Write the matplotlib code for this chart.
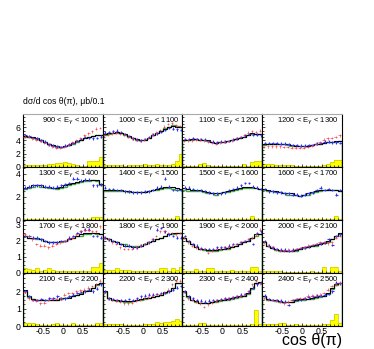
import matplotlib
matplotlib.use('Agg')
import matplotlib.pyplot as plt
from matplotlib.ticker import MultipleLocator, FixedLocator
import numpy as np

plt.rcParams['font.family'] = ['Liberation Sans', 'DejaVu Sans']
plt.rcParams['axes.unicode_minus'] = False

# bin edges in cos theta (20 bins of 0.1)
edges = np.linspace(-1, 1, 21)
centers = 0.5 * (edges[:-1] + edges[1:])

# energy ranges for the 16 panels
e_lo = [900, 1000, 1100, 1200, 1300, 1400, 1500, 1600,
        1700, 1800, 1900, 2000, 2100, 2200, 2300, 2400]
e_hi = [1000, 1100, 1200, 1300, 1400, 1500, 1600, 1700,
        1800, 1900, 2000, 2100, 2200, 2300, 2400, 2500]

# y range per row and tick labels
row_ymax = [8.0, 4.6, 3.3, 3.05]
row_ticks = [[0, 2, 4, 6], [0, 2, 4], [0, 1, 2, 3], [0, 1, 2]]
row_minor = [0.5, 0.5, 0.25, 0.25]

# model (black histogram)
model = [
    [4.7, 4.6, 4.5, 4.3, 4.0, 3.8, 3.5, 3.3, 3.1, 3.0, 3.1, 3.3, 3.6, 3.9, 4.1, 4.3, 4.5, 4.7, 4.9, 4.8],
    [5.0, 5.1, 5.2, 5.3, 5.2, 5.0, 4.7, 4.4, 4.2, 4.0, 4.1, 4.4, 4.8, 5.1, 5.4, 5.8, 6.1, 6.2, 6.1, 6.0],
    [4.1, 4.1, 4.2, 4.2, 4.1, 4.1, 4.0, 3.7, 3.6, 3.8, 3.8, 3.9, 4.0, 4.2, 4.4, 4.6, 4.9, 5.1, 5.0, 5.0],
    [3.4, 3.5, 3.5, 3.5, 3.5, 3.5, 3.4, 3.3, 3.2, 3.2, 3.2, 3.2, 3.3, 3.4, 3.5, 3.6, 3.7, 3.8, 3.9, 3.9],
    [2.8, 2.9, 3.0, 3.0, 3.0, 2.9, 2.9, 2.8, 2.8, 2.9, 3.0, 3.1, 3.2, 3.3, 3.4, 3.5, 3.5, 3.5, 3.5, 3.1],
    [2.6, 2.6, 2.6, 2.6, 2.6, 2.5, 2.5, 2.4, 2.4, 2.4, 2.4, 2.5, 2.6, 2.7, 2.8, 2.9, 2.9, 2.9, 2.8, 2.7],
    [2.8, 2.7, 2.6, 2.6, 2.6, 2.5, 2.4, 2.3, 2.3, 2.3, 2.4, 2.5, 2.6, 2.7, 2.8, 2.9, 2.9, 2.9, 2.8, 2.7],
    [2.7, 2.6, 2.5, 2.5, 2.4, 2.3, 2.3, 2.3, 2.2, 2.1, 2.2, 2.3, 2.4, 2.5, 2.6, 2.6, 2.6, 2.6, 2.6, 2.5],
    [2.3, 2.2, 2.2, 2.2, 2.1, 2.0, 1.9, 1.9, 1.9, 2.0, 2.0, 2.1, 2.2, 2.3, 2.4, 2.5, 2.5, 2.5, 2.5, 2.4],
    [2.2, 2.1, 2.0, 1.9, 1.8, 1.7, 1.7, 1.6, 1.6, 1.7, 1.8, 1.9, 2.0, 2.1, 2.2, 2.3, 2.4, 2.5, 2.5, 2.5],
    [2.2, 2.0, 1.8, 1.6, 1.5, 1.5, 1.45, 1.45, 1.45, 1.5, 1.5, 1.55, 1.6, 1.7, 1.8, 1.9, 2.0, 2.2, 2.4, 2.4],
    [1.9, 1.7, 1.55, 1.5, 1.45, 1.4, 1.4, 1.4, 1.45, 1.5, 1.6, 1.6, 1.65, 1.75, 1.8, 1.85, 2.0, 2.1, 2.3, 2.5],
    [2.05, 1.7, 1.55, 1.5, 1.5, 1.5, 1.5, 1.5, 1.5, 1.6, 1.6, 1.6, 1.75, 1.8, 1.85, 2.0, 2.0, 2.2, 2.4, 2.5],
    [2.0, 1.6, 1.5, 1.5, 1.45, 1.45, 1.45, 1.45, 1.5, 1.55, 1.6, 1.6, 1.65, 1.75, 1.8, 1.95, 2.0, 2.2, 2.5, 2.5],
    [2.0, 1.7, 1.5, 1.45, 1.35, 1.35, 1.35, 1.4, 1.45, 1.5, 1.5, 1.55, 1.6, 1.65, 1.7, 1.75, 1.9, 2.2, 2.5, 2.55],
    [1.7, 1.55, 1.5, 1.5, 1.45, 1.4, 1.4, 1.4, 1.5, 1.55, 1.55, 1.55, 1.6, 1.65, 1.7, 1.75, 1.9, 2.2, 2.4, 2.45],
]

# second model (green histogram)
green = [
    [4.6, 4.6, 4.4, 4.2, 4.0, 3.7, 3.5, 3.2, 3.0, 3.0, 3.1, 3.3, 3.5, 3.8, 4.1, 4.3, 4.5, 4.7, 4.8, 4.8],
    [4.9, 5.0, 5.1, 5.2, 5.1, 4.9, 4.6, 4.3, 4.1, 4.0, 4.1, 4.4, 4.8, 5.1, 5.5, 5.9, 6.1, 6.3, 6.2, 6.1],
    [4.1, 4.1, 4.1, 4.2, 4.1, 4.0, 3.9, 3.7, 3.6, 3.7, 3.8, 3.9, 4.0, 4.2, 4.4, 4.6, 4.9, 5.0, 5.0, 5.0],
    [3.3, 3.4, 3.5, 3.5, 3.5, 3.4, 3.3, 3.2, 3.2, 3.2, 3.2, 3.2, 3.3, 3.4, 3.5, 3.6, 3.7, 3.7, 3.8, 3.9],
    [2.7, 2.8, 2.9, 3.0, 2.9, 2.9, 2.8, 2.8, 2.7, 2.8, 2.9, 3.0, 3.1, 3.2, 3.3, 3.4, 3.4, 3.5, 3.4, 3.0],
    [2.5, 2.5, 2.5, 2.5, 2.5, 2.5, 2.4, 2.4, 2.4, 2.4, 2.4, 2.5, 2.6, 2.6, 2.7, 2.8, 2.8, 2.7, 2.6, 2.6],
    [2.6, 2.5, 2.5, 2.5, 2.5, 2.4, 2.3, 2.3, 2.2, 2.3, 2.4, 2.4, 2.5, 2.6, 2.7, 2.8, 2.8, 2.8, 2.8, 2.7],
    [2.6, 2.5, 2.5, 2.4, 2.4, 2.3, 2.2, 2.2, 2.2, 2.1, 2.2, 2.2, 2.3, 2.4, 2.5, 2.6, 2.6, 2.6, 2.6, 2.5],
    [2.3, 2.2, 2.2, 2.1, 2.1, 2.0, 1.9, 1.9, 1.9, 1.9, 2.0, 2.1, 2.2, 2.3, 2.3, 2.4, 2.4, 2.5, 2.4, 2.4],
    [2.2, 2.1, 2.0, 1.9, 1.8, 1.8, 1.7, 1.7, 1.7, 1.7, 1.8, 1.9, 2.0, 2.1, 2.2, 2.3, 2.4, 2.4, 2.5, 2.5],
    [2.2, 2.0, 1.8, 1.6, 1.5, 1.45, 1.4, 1.4, 1.4, 1.45, 1.5, 1.5, 1.6, 1.7, 1.8, 1.9, 2.0, 2.2, 2.3, 2.4],
    [1.9, 1.7, 1.55, 1.45, 1.4, 1.4, 1.35, 1.4, 1.4, 1.5, 1.55, 1.6, 1.65, 1.7, 1.8, 1.85, 1.95, 2.1, 2.3, 2.45],
    [2.0, 1.65, 1.55, 1.5, 1.5, 1.5, 1.5, 1.5, 1.5, 1.55, 1.6, 1.65, 1.75, 1.8, 1.9, 2.0, 2.1, 2.2, 2.35, 2.5],
    [1.95, 1.6, 1.5, 1.45, 1.45, 1.4, 1.4, 1.45, 1.5, 1.5, 1.55, 1.6, 1.65, 1.7, 1.8, 1.9, 2.0, 2.2, 2.45, 2.5],
    [1.95, 1.65, 1.5, 1.4, 1.35, 1.3, 1.35, 1.4, 1.4, 1.45, 1.5, 1.5, 1.55, 1.6, 1.65, 1.75, 1.85, 2.15, 2.45, 2.5],
    [1.7, 1.5, 1.5, 1.45, 1.4, 1.4, 1.4, 1.4, 1.45, 1.5, 1.5, 1.55, 1.55, 1.6, 1.65, 1.7, 1.85, 2.15, 2.35, 2.45],
]

# data set 1 (blue)
blue = [
    [4.8, 4.7, 4.4, 4.3, 4.0, 3.8, 3.4, 3.2, 3.1, 3.0, 3.2, 3.4, 3.6, 3.9, 4.2, 4.5, 4.4, 4.3, 4.4, 4.6],
    [5.2, 5.3, 5.4, 5.5, 5.3, 5.0, 4.7, 4.3, 4.1, 4.0, 4.2, 4.5, 4.9, 5.1, 5.3, 5.6, 5.9, 5.8, 5.7, 5.6],
    [4.2, 4.2, 4.3, 4.2, 4.2, 4.1, 3.9, 3.8, 3.7, 3.8, 3.8, 3.9, 4.1, 4.3, 4.5, 4.8, 5.0, 4.9, 4.9, 4.8],
    [3.6, 3.6, 3.6, 3.6, 3.5, 3.5, 3.4, 3.3, 3.3, 3.2, 3.2, 3.3, 3.3, 3.5, 3.6, 3.8, 3.8, 3.7, 3.7, 3.6],
    [2.8, 2.9, 3.0, 3.0, 3.0, 2.9, 2.9, 2.8, 2.9, 3.0, 3.1, 3.2, 3.6, 3.6, 3.4, 3.5, 3.5, 3.0, 3.0, 3.1],
    [2.8, 2.7, 2.7, 2.6, 2.6, 2.5, 2.5, 2.4, 2.4, 2.4, 2.5, 2.5, 2.6, 2.8, 2.9, 3.6, 2.9, 2.6, 2.6, 2.6],
    [2.8, 2.8, 2.7, 2.6, 2.6, 2.5, 2.4, 2.3, 2.3, 2.3, 2.4, 2.6, 2.7, 2.8, 3.0, 3.2, 3.2, 2.9, 2.8, 2.7],
    [2.7, 2.5, 2.5, 2.4, 2.4, 2.3, 2.3, 2.2, 2.2, 2.1, 2.2, 2.3, 2.4, 2.6, 2.8, 2.6, 2.7, 2.6, 2.2, 2.6],
    [2.3, 2.3, 2.2, 2.2, 2.1, 2.0, 1.9, 1.9, 1.9, 2.0, 2.0, 2.2, 2.3, 2.5, 2.6, 2.7, 2.7, 2.3, 2.3, 2.2],
    [2.2, 2.1, 2.0, 1.9, 1.8, 1.7, 1.7, 1.6, 1.6, 1.7, 1.8, 1.9, 2.1, 2.7, 2.8, 2.6, 2.4, 2.3, 2.2, 2.2],
    [2.3, 2.0, 1.8, 1.7, 1.55, 1.5, 1.5, 1.5, 1.6, 1.6, 1.6, 1.7, 1.8, 1.8, 1.9, 2.0, 2.1, 1.8, 2.5, 2.6],
    [2.0, 1.7, 1.6, 1.5, 1.45, 1.45, 1.4, 1.45, 1.5, 1.55, 1.6, 1.65, 1.75, 1.8, 1.85, 1.9, 2.1, 1.75, 2.3, 2.4],
    [2.0, 1.7, 1.5, 1.5, 1.55, 1.5, 1.6, 1.6, 1.7, 1.6, 1.6, 1.7, 1.8, 1.9, 1.95, 2.0, 2.1, 2.0, 2.15, 2.4],
    [2.0, 1.6, 1.55, 1.5, 1.5, 1.5, 1.55, 1.5, 1.6, 1.7, 1.75, 1.8, 1.8, 1.85, 1.9, 1.9, 2.0, 2.1, 2.2, 2.3],
    [2.0, 1.7, 1.6, 1.5, 1.45, 1.4, 1.45, 1.5, 1.5, 1.55, 1.6, 1.6, 1.65, 1.7, 1.8, 1.85, 2.0, 2.2, 2.4, 2.5],
    [1.75, 1.55, 1.5, 1.5, 1.45, 1.4, 1.2, 1.5, 1.55, 1.5, 1.6, 1.65, 1.7, 1.75, 1.75, 1.8, 1.85, 2.0, 2.5, 2.45],
]

# data set 2 (red), missing for 1300-1700
red = [
    [4.6, 4.5, 4.3, 4.1, 3.9, 3.6, 3.3, 3.1, 2.9, 2.9, 3.0, 3.3, 3.7, 4.0, 4.4, 4.8, 5.1, 5.4, 5.8, 5.9],
    [4.8, 4.9, 5.1, 5.2, 5.0, 4.9, 4.6, 4.3, 4.1, 3.9, 4.1, 4.4, 4.9, 5.2, 5.6, 6.1, 6.5, 6.6, 6.3, 6.2],
    [3.9, 4.0, 4.0, 4.1, 4.1, 4.0, 3.8, 3.6, 3.5, 3.7, 3.8, 3.9, 4.0, 4.3, 4.5, 4.8, 5.2, 5.4, 5.3, 5.5],
    [3.0, 3.1, 3.1, 3.1, 3.1, 3.0, 3.0, 2.9, 2.9, 2.9, 2.9, 3.0, 3.2, 3.5, 3.7, 4.1, 4.3, 4.4, 4.5, 4.8],
    None, None, None, None,
    [2.4, 2.3, 2.1, 1.8, 1.7, 1.7, 1.6, 1.7, 1.8, 1.9, 2.0, 2.1, 2.2, 2.4, 2.6, 2.7, 2.7, 2.6, 2.6, 2.9],
    [2.2, 2.1, 1.9, 1.8, 1.6, 1.5, 1.5, 1.5, 1.6, 1.7, 1.8, 1.9, 2.1, 2.3, 2.6, 2.6, 2.5, 2.5, 2.4, 2.5],
    [2.2, 1.9, 1.7, 1.6, 1.5, 1.5, 1.25, 1.4, 1.5, 1.5, 1.6, 1.6, 1.7, 1.8, 1.9, 2.0, 2.1, 2.2, 2.4, 2.7],
    [1.9, 1.7, 1.6, 1.45, 1.4, 1.4, 1.45, 1.4, 1.5, 1.55, 1.6, 1.7, 1.75, 1.8, 1.9, 1.9, 1.85, 1.9, 2.2, 2.3],
    [1.95, 1.6, 1.5, 1.45, 1.3, 1.35, 1.5, 1.55, 1.55, 1.6, 1.8, 1.9, 1.9, 2.0, 2.05, 2.1, 2.2, 2.3, 2.4, 2.6],
    [1.9, 1.55, 1.5, 1.45, 1.4, 1.3, 1.3, 1.35, 1.45, 1.5, 1.6, 1.65, 1.75, 1.85, 1.85, 1.95, 2.1, 2.4, 2.6, 2.6],
    [1.95, 1.6, 1.5, 1.4, 1.3, 1.1, 1.25, 1.35, 1.45, 1.5, 1.55, 1.6, 1.65, 1.7, 1.75, 1.8, 2.0, 2.4, 2.6, 2.45],
    [1.6, 1.5, 1.5, 1.45, 1.4, 1.3, 1.4, 1.5, 1.55, 1.6, 1.6, 1.75, 1.75, 1.75, 1.8, 1.9, 2.1, 2.3, 2.4, 2.5],
]

# systematic errors (yellow)
syst = [
    [0.3, 0.3, 0.3, 0.3, 0.3, 0.3, 0.4, 0.5, 0.6, 0.6, 0.7, 0.6, 0.4, 0.3, 0.2, 0.2, 0.9, 0.9, 0.9, 1.5],
    [0.3, 0.3, 0.3, 0.3, 0.3, 0.2, 0.3, 0.3, 0.3, 0.3, 0.4, 0.3, 0.3, 0.4, 0.3, 0.3, 0.3, 0.5, 0.9, 2.0],
    [0.2, 0.2, 0.2, 0.2, 0.5, 0.6, 0.3, 0.2, 0.2, 0.2, 0.2, 0.2, 0.2, 0.2, 0.2, 0.5, 0.2, 0.8, 0.9, 0.9],
    [0.4, 0.4, 0.4, 0.3, 0.3, 0.3, 0.3, 0.3, 0.2, 0.2, 0.2, 0.2, 0.2, 0.2, 0.2, 0.3, 0.5, 0.8, 1.0, 1.1],
    [0.1, 0.1, 0.1, 0.1, 0.1, 0.1, 0.1, 0.1, 0.1, 0.1, 0.1, 0.1, 0.1, 0.1, 0.1, 0.1, 0.1, 0.25, 0.25, 0.25],
    [0.1, 0.1, 0.1, 0.1, 0.1, 0.1, 0.1, 0.1, 0.1, 0.1, 0.1, 0.1, 0.1, 0.1, 0.1, 0.1, 0.1, 0.1, 0.35, 0.1],
    [0.1, 0.1, 0.1, 0.1, 0.1, 0.1, 0.1, 0.1, 0.1, 0.1, 0.1, 0.1, 0.1, 0.1, 0.1, 0.1, 0.1, 0.35, 0.1, 0.1],
    [0.1, 0.1, 0.1, 0.1, 0.1, 0.1, 0.1, 0.1, 0.1, 0.1, 0.1, 0.1, 0.1, 0.1, 0.1, 0.1, 0.1, 0.1, 0.35, 0.1],
    [0.3, 0.25, 0.2, 0.3, 0.15, 0.2, 0.3, 0.2, 0.1, 0.1, 0.1, 0.1, 0.1, 0.1, 0.1, 0.15, 0.1, 0.4, 0.4, 0.6],
    [0.2, 0.2, 0.2, 0.3, 0.2, 0.2, 0.2, 0.1, 0.1, 0.1, 0.15, 0.1, 0.1, 0.1, 0.3, 0.3, 0.1, 0.3, 0.2, 0.35],
    [0.1, 0.1, 0.1, 0.25, 0.1, 0.1, 0.3, 0.3, 0.1, 0.1, 0.1, 0.1, 0.2, 0.1, 0.1, 0.1, 0.1, 0.4, 0.4, 0.1],
    [0.1, 0.1, 0.1, 0.1, 0.1, 0.05, 0.05, 0.05, 0.05, 0.05, 0.05, 0.05, 0.15, 0.05, 0.05, 0.35, 0.05, 0.35, 0.35, 0.1],
    [0.15, 0.15, 0.15, 0.1, 0.05, 0.05, 0.05, 0.1, 0.2, 0.05, 0.05, 0.05, 0.2, 0.05, 0.05, 0.05, 0.05, 0.05, 0.2, 0.2],
    [0.1, 0.1, 0.1, 0.1, 0.1, 0.05, 0.05, 0.05, 0.05, 0.05, 0.1, 0.1, 0.1, 0.25, 0.2, 0.25, 0.25, 0.3, 0.4, 0.3],
    [0.05, 0.05, 0.05, 0.05, 0.15, 0.15, 0.05, 0.05, 0.05, 0.05, 0.05, 0.05, 0.05, 0.05, 0.05, 0.05, 0.05, 0.1, 0.9, 0.1],
    [0.1, 0.1, 0.1, 0.1, 0.15, 0.15, 0.05, 0.05, 0.1, 0.05, 0.05, 0.05, 0.05, 0.05, 0.05, 0.1, 0.1, 0.35, 0.7, 0.2],
]

fig, axes = plt.subplots(4, 4, figsize=(3.74, 3.49), dpi=100, sharex=True)
fig.subplots_adjust(left=0.0615, right=0.9144, top=0.6734, bottom=0.0659,
                    wspace=0, hspace=0)

for i in range(16):
    r, c = divmod(i, 4)
    ax = axes[r, c]
    ymax = row_ymax[r]
    err = ymax * 0.025

    # yellow systematic histogram
    ax.stairs(syst[i], edges, fill=True, color='#ffff00', zorder=1)
    ax.stairs(syst[i], edges, color='#c8c800', linewidth=0.5, zorder=1)

    # model histograms
    ax.stairs(green[i], edges, color='#44aa44', linewidth=1.0, zorder=2)
    ax.stairs(model[i], edges, color='black', linewidth=0.8, zorder=3)

    # data points
    ax.errorbar(centers + 0.012, blue[i], xerr=0.03, yerr=err, fmt='none',
                ecolor='#3333ff', elinewidth=0.8, zorder=4)
    if red[i] is not None:
        ax.errorbar(centers - 0.012, red[i], xerr=0.03, yerr=err, fmt='none',
                    ecolor='#ff3333', elinewidth=0.6, alpha=0.75, zorder=4)

    ax.set_xlim(-1, 1)
    ax.set_ylim(0, ymax)
    ax.text(0.96, 0.97, r'%d < E$_\gamma$ < %d' % (e_lo[i], e_hi[i]),
            transform=ax.transAxes, ha='right', va='top', fontsize=5.5)

    ax.xaxis.set_major_locator(FixedLocator([-0.5, 0, 0.5]))
    ax.xaxis.set_minor_locator(MultipleLocator(0.1))
    ax.yaxis.set_major_locator(FixedLocator(row_ticks[r]))
    ax.yaxis.set_minor_locator(MultipleLocator(row_minor[r]))
    ax.tick_params(which='both', direction='in', width=0.5, labelsize=6.3, pad=1.5)
    ax.tick_params(axis='x', pad=1.0)
    ax.tick_params(which='major', length=2.5)
    ax.tick_params(which='minor', length=1.2)
    if c != 0:
        ax.tick_params(labelleft=False)
    ax.set_xticklabels(['-0.5', '0', '0.5'])
    for s in ax.spines.values():
        s.set_linewidth(0.8)
    if r == 0:
        ax.spines['top'].set_color('#aaaaaa')

fig.text(0.0615, 0.709, 'dσ/d cos θ(π), μb/0.1', fontsize=6.2, ha='left', va='center')
fig.text(0.9144, 0.004, 'cos θ(π)', fontsize=11.5, ha='right', va='bottom')

plt.savefig('out.png', dpi=100)
